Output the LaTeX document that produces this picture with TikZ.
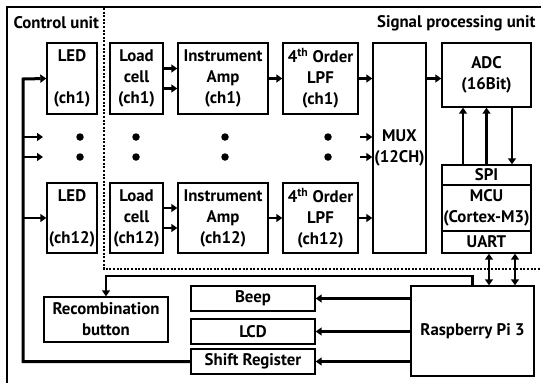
\documentclass[tikz,border=0pt]{standalone}
\usepackage{fontspec}
\setmainfont{PT Sans}
\usetikzlibrary{arrows.meta,positioning,calc}

\begin{document}
\begin{tikzpicture}[x=1pt,y=-1pt,font=\bfseries\fontsize{16.8}{21}\selectfont,
    blk/.style={draw,line width=1.4pt,align=center,inner sep=0pt,minimum width=#1},
    arr/.style={line width=2.6pt,-{Triangle[length=6pt,width=8pt]}},
    dbl/.style={line width=2.6pt,{Triangle[length=6pt,width=8pt]}-{Triangle[length=6pt,width=8pt]}},
    dot/.style={circle,fill,inner sep=0pt,minimum size=7.5pt},
    divider/.style={line width=2.2pt,dash pattern=on 2pt off 1.6pt}]
    \useasboundingbox[fill=white] (0,0) rectangle (541,383);
    \draw[line width=2.5pt] (7,383) -- (7,7) -- (541,7);
    \draw[divider] (104,8) -- (104,269) -- (541,269);
    \node[anchor=west] (cu) at (10,23) {Control unit};
    \node[anchor=east] (spu) at (539,23) {Signal processing unit};
    % channel 1
    \node[blk=50pt,minimum height=71pt] (led1) at (72,78.5) {LED\\[21pt](ch1)};
    \node[blk=53pt,minimum height=71pt] (load1) at (136.5,78.5) {Load\\cell\\(ch1)};
    \node[blk=90pt,minimum height=71pt] (amp1) at (223,78.5) {Instrument\\Amp\\(ch1)};
    \node[blk=75pt,minimum height=71pt] (lpf1) at (320.5,78.5) {4\textsuperscript{th} Order\\LPF\\(ch1)};
    % channel 12
    \node[blk=50pt,minimum height=70pt] (led12) at (72,218) {LED\\[21pt](ch12)};
    \node[blk=53pt,minimum height=70pt] (load12) at (136.5,218) {Load\\cell\\(ch12)};
    \node[blk=90pt,minimum height=70pt] (amp12) at (223,218) {Instrument\\Amp\\(ch12)};
    \node[blk=75pt,minimum height=70pt] (lpf12) at (320.5,218) {4\textsuperscript{th} Order\\LPF\\(ch12)};
    \node[blk=53pt,minimum height=210pt] (mux) at (399.5,148) {MUX\\(12CH)};
    \node[blk=89pt,minimum height=64pt] (adc) at (486.5,75) {ADC\\(16Bit)};
    \node[blk=89pt,minimum height=20pt] (spi) at (486.5,175) {SPI};
    \node[blk=89pt,minimum height=46pt] (mcu) at (486.5,208) {MCU\\(Cortex-M3)};
    \node[blk=89pt,minimum height=22pt] (uart) at (486.5,242) {UART};
    \foreach \x/\n in {80/a,136/b,225/c,328/d}{
      \node[dot] (dt\n) at (\x,137) {};
      \node[dot] (db\n) at (\x,157) {};
    }
    % control side
    \node[blk=124pt,minimum height=45pt] (recomb) at (106,319.5) {Recombination\\button};
    \node[blk=124pt,minimum height=25pt] (beep) at (253,298.5) {Beep};
    \node[blk=124pt,minimum height=25pt] (lcd) at (253,331.5) {LCD};
    \node[blk=124pt,minimum height=25pt] (shift) at (253,361.5) {Shift Register};
    \node[blk=123pt,minimum height=90pt] (rpi) at (472.5,331) {Raspberry Pi 3};
    % connectors
    \coordinate (bus) at (23,79);
    \coordinate (b1) at (23,137);
    \coordinate (b2) at (23,157);
    \coordinate (m1) at (360,137);
    \coordinate (m2) at (360,157);
    \coordinate (rb) at (106,276);
    \draw[arr,line width=3pt] (shift.west) -| (bus) -- (led1.west);
    \draw[arr] (b1) -- ++(20,0);
    \draw[arr] (b2) -- ++(20,0);
    \draw[arr] (bus |- led12.west) -- (led12.west);
    \foreach \r in {1,12}{
      \draw[arr] ([yshift=10pt]load\r.east) -- ([yshift=10pt]amp\r.west);
      \draw[arr] ([yshift=-10pt]load\r.east) -- ([yshift=-10pt]amp\r.west);
      \draw[arr] (amp\r.east) -- (lpf\r.west);
      \draw[arr] (lpf\r.east) -- (lpf\r.east -| mux.west);
    }
    \draw[arr] (m1) -- (m1 -| mux.west);
    \draw[arr] (m2) -- (m2 -| mux.west);
    \draw[arr] (mux.east |- lpf1.east) -- (adc.west |- lpf1.east);
    \draw[arr] ([xshift=-23.5pt]spi.north) -- ([xshift=-23.5pt]adc.south);
    \draw[arr] (spi.north) -- (adc.south);
    \draw[arr] ([xshift=25.5pt]adc.south) -- ([xshift=25.5pt]spi.north);
    \draw[dbl] ([xshift=2.5pt]uart.south) -- ([xshift=2.5pt]uart.south |- rpi.north);
    \draw[dbl] ([xshift=28.5pt]uart.south) -- ([xshift=28.5pt]uart.south |- rpi.north);
    \draw[arr] (rpi.north) |- (rb) -- (recomb.north);
    \draw[arr] (rpi.west |- beep.east) -- (beep.east);
    \draw[arr] (rpi.west |- lcd.east) -- (lcd.east);
    \draw[arr] (rpi.west |- shift.east) -- (shift.east);
\end{tikzpicture}
\end{document}
